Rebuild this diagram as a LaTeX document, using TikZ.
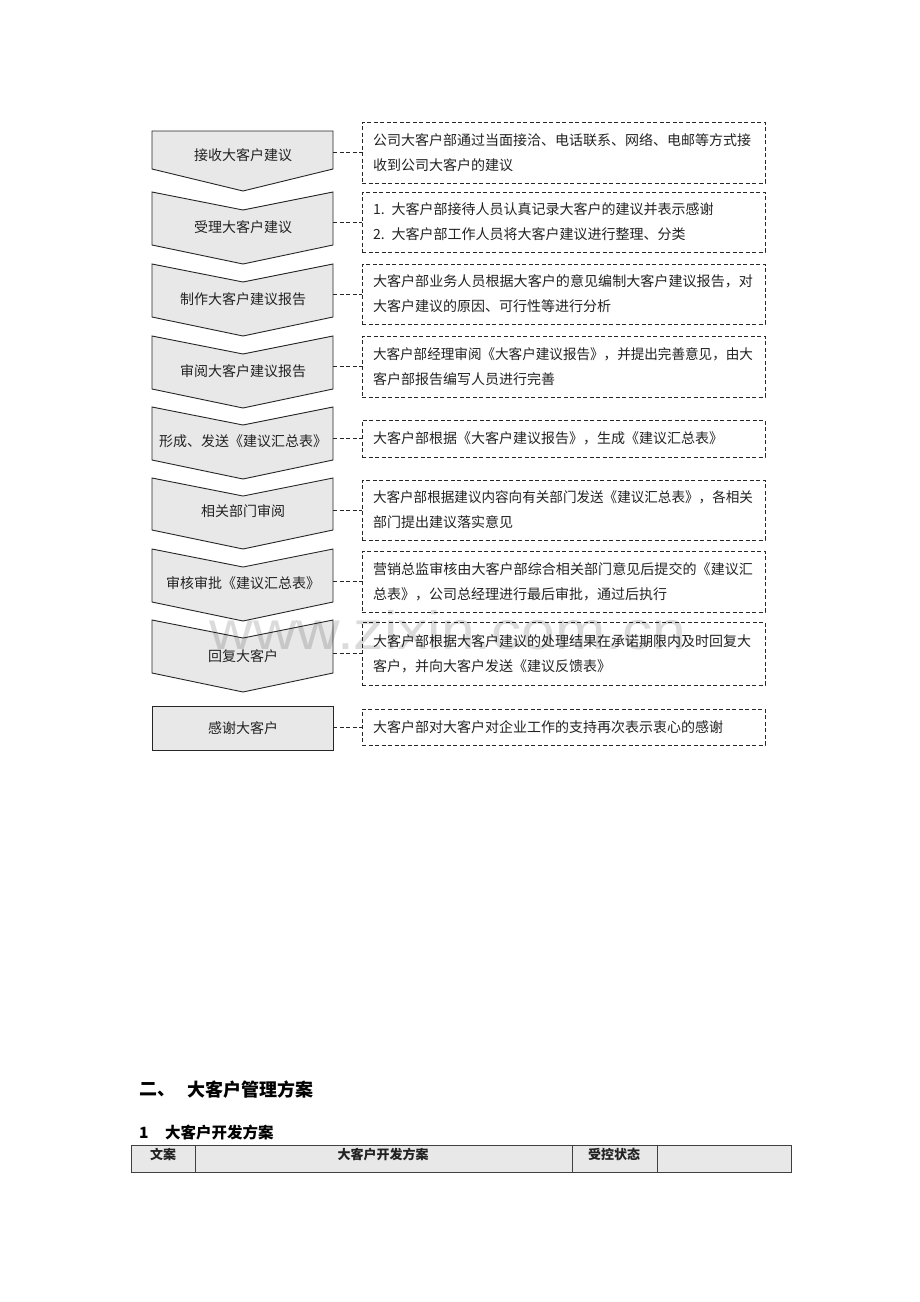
\documentclass[tikz,border=0pt]{standalone}
\usepackage{fontspec}
\setmainfont{Noto Sans CJK SC}
\newfontfamily\wmfont{Liberation Sans}
\usetikzlibrary{calc}
\definecolor{chevfill}{HTML}{E8E8E8}
\definecolor{txt}{HTML}{222222}
\newcommand\mychev[5]{%
  \draw[chev] (152,#1) -- (243,#1+18) -- (333,#1) -- (333,#2) -- (243,#2+19) -- (152,#2) -- cycle;
  \node[ctext] (#3) at (243,#4) {#5};}
\newcommand\fitline[1]{\resizebox{380pt}{\height}{#1}}
\begin{document}
\begin{tikzpicture}[x=1pt,y=-1pt,
  chev/.style={draw=black!85, fill=chevfill, line width=0.9pt, line join=miter},
  ctext/.style={text=txt, font=\fontsize{14}{16}\selectfont, inner sep=0pt},
  dbox/.style={draw=black!85, dash pattern=on 4pt off 2.5pt, line width=0.9pt,
     inner xsep=11pt, inner ysep=0pt, text width=381pt, align=left,
     minimum height=#1, text=txt, font=\fontsize{14}{25}\selectfont},
  conn/.style={draw=black!85, dash pattern=on 4pt off 2.5pt, line width=0.9pt},
  tbl/.style={draw=black!75, line width=1pt, fill=chevfill},
  ttext/.style={text=txt, font=\bfseries\fontsize{13}{15}\selectfont, inner sep=0pt}
]
\useasboundingbox (0,0) rectangle (920,1302);
\fill[white] (0,0) rectangle (920,1302);

% chevrons
\draw[chev] (152,131) -- (333,131) -- (333,169) -- (243,191) -- (152,169) -- cycle;
\node[ctext] (c1) at (243,155) {接收大客户建议};
\mychev{192}{245}{c2}{227}{受理大客户建议}
\mychev{264}{317}{c3}{299}{制作大客户建议报告}
\mychev{336}{389}{c4}{371}{审阅大客户建议报告}
\mychev{407}{460}{c5}{441}{形成、发送《建议汇总表》}
\mychev{478}{530}{c6}{511}{相关部门审阅}
\mychev{549}{602}{c7}{583}{审核审批《建议汇总表》}
\mychev{620}{673}{c8}{656}{回复大客户}
\draw[chev] (152,706) rectangle (333,750);
\node[ctext] (c9) at (243,728) {感谢大客户};

% dashed boxes
\node[dbox=61pt] (b1) at (563.5,152.5) {公司大客户部通过当面接洽、电话联系、网络、电邮等方式接\\收到公司大客户的建议};
\node[dbox=60pt] (b2) at (563.5,222) {1.\hspace{7pt}大客户部接待人员认真记录大客户的建议并表示感谢\\2.\hspace{7pt}大客户部工作人员将大客户建议进行整理、分类};
\node[dbox=60pt] (b3) at (563.5,294) {\fitline{大客户部业务人员根据大客户的意见编制大客户建议报告，对}\\大客户建议的原因、可行性等进行分析};
\node[dbox=61pt] (b4) at (563.5,366.5) {\fitline{大客户部经理审阅《大客户建议报告》，并提出完善意见，由大}\\客户部报告编写人员进行完善};
\node[dbox=37pt] (b5) at (563.5,438.5) {大客户部根据《大客户建议报告》，生成《建议汇总表》};
\node[dbox=60pt] (b6) at (563.5,510) {\fitline{大客户部根据建议内容向有关部门发送《建议汇总表》，各相关}\\部门提出建议落实意见};
\node[dbox=61pt] (b7) at (563.5,581.5) {\fitline{营销总监审核由大客户部综合相关部门意见后提交的《建议汇}\\总表》，公司总经理进行最后审批，通过后执行};
\node[dbox=63pt] (b8) at (563.5,653.5) {大客户部根据大客户建议的处理结果在承诺期限内及时回复大\\客户，并向大客户发送《建议反馈表》};
\node[dbox=36pt] (b9) at (563.5,727) {大客户部对大客户对企业工作的支持再次表示衷心的感谢};

% connectors
\foreach \i in {1,...,9} {
  \coordinate (e\i) at (333,0);
  \draw[conn] (e\i |- b\i.west) -- (b\i.west);
}

% heading
\node[anchor=west, inner sep=0pt, text=black, font=\bfseries\fontsize{18}{20}\selectfont] (h1) at (139,1090) {二、};
\node[anchor=west, inner sep=0pt, text=black, font=\bfseries\fontsize{18}{20}\selectfont] (h2) at (187,1090) {大客户管理方案};
\node[anchor=west, inner sep=0pt, text=black, font=\bfseries\fontsize{15.5}{17}\selectfont] (h3) at (139,1133) {1};
\node[anchor=west, inner sep=0pt, text=black, font=\bfseries\fontsize{15.5}{17}\selectfont] (h4) at (165,1133) {大客户开发方案};

% table
\draw[tbl] (131,1145) rectangle (791,1172);
\draw[draw=black!75, line width=1pt] (195,1145) -- (195,1172) (572,1145) -- (572,1172) (657,1145) -- (657,1172);
\node[ttext] (t1) at (163,1154) {文案};
\node[ttext] (t2) at (383,1154) {大客户开发方案};
\node[ttext] (t3) at (614,1154) {受控状态};

% watermark
\node[anchor=base, inner sep=0pt, text=black, opacity=0.14, font=\wmfont\fontsize{54}{54}\selectfont] (wm) at (448,649) {\scalebox{1.12}[1]{www.zixin.com.cn}};
\end{tikzpicture}
\end{document}
